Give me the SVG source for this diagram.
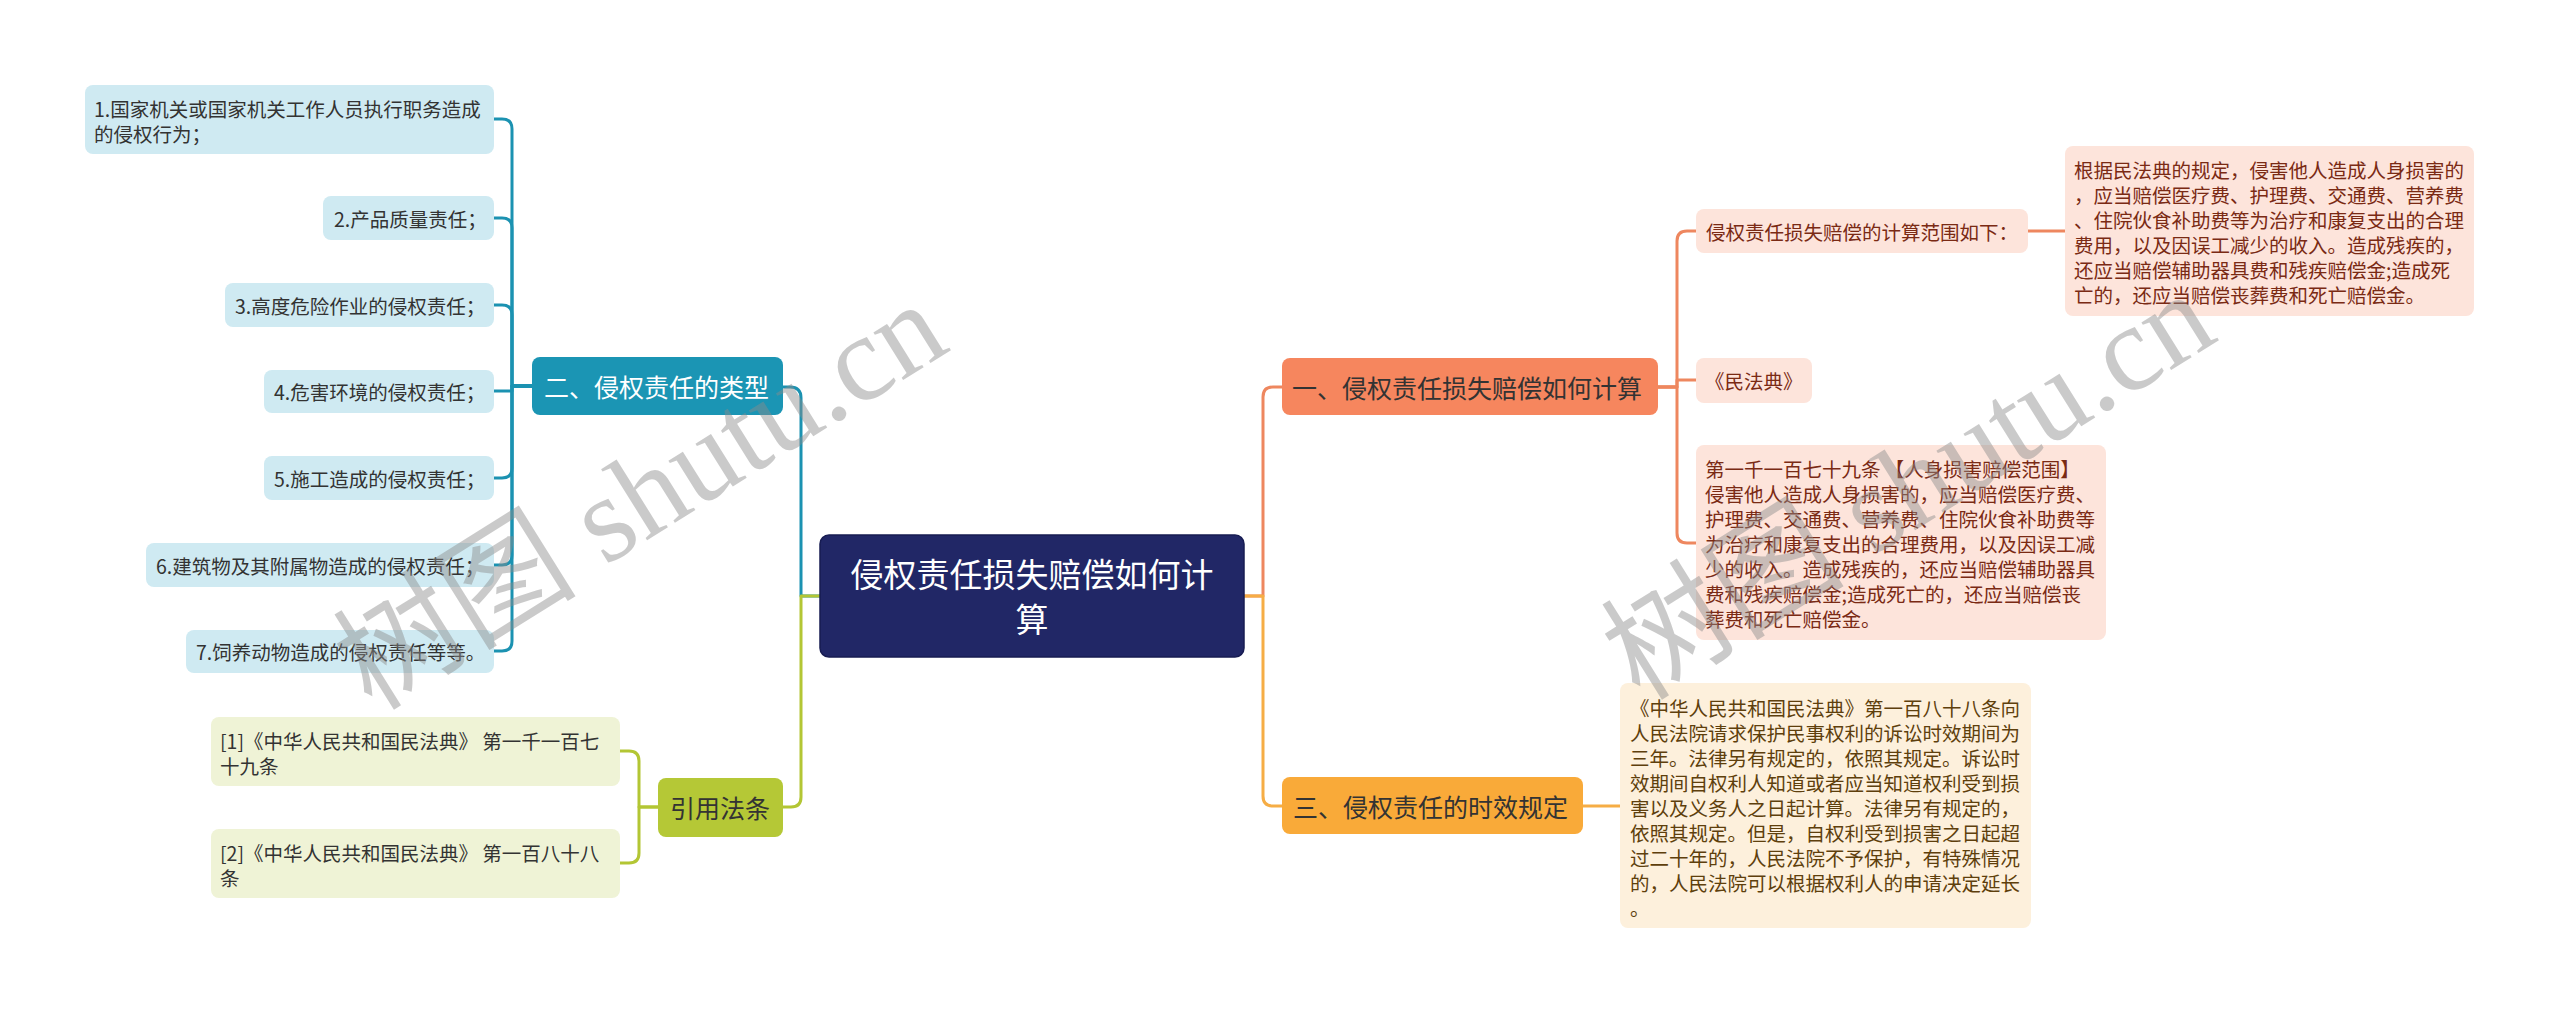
<svg xmlns="http://www.w3.org/2000/svg" width="2560" height="1013" viewBox="0 0 2560 1013">
<style>
text{font-family:"Noto Sans CJK SC","Noto Sans",sans-serif;dominant-baseline:central}
.s{font-size:19.5px}
.m{font-size:25px}
.c{font-size:33px;fill:#ffffff;text-anchor:middle}
.ln{fill:none;stroke-width:3;stroke-linecap:round;stroke-linejoin:round}
.wm{font-family:"Liberation Serif","Noto Sans CJK SC",serif;font-size:122px;fill:#8c8c8c;opacity:0.45;dominant-baseline:alphabetic}
</style>
<rect width="2560" height="1013" fill="#ffffff"/>
<g id="connectors">
<path class="ln" stroke="#1b92b1" d="M820,596 H801 V398 Q801,387 790,387 H783"/>
<path class="ln" stroke="#b3c634" d="M820,596 H801 V797 Q801,807 791,807 H783"/>
<path class="ln" stroke="#ee875f" d="M1244,596 H1263 V397 Q1263,387 1273,387 H1282"/>
<path class="ln" stroke="#f6ad45" d="M1244,596 H1263 V796 Q1263,806 1273,806 H1282"/>
<g stroke="#1b92b1">
<path class="ln" d="M532,386 H512 V129 Q512,119 502,119 H494"/>
<path class="ln" d="M532,386 H512 V228 Q512,218 502,218 H494"/>
<path class="ln" d="M532,386 H512 V315 Q512,305 502,305 H494"/>
<path class="ln" d="M532,386 H512 V391 H494"/>
<path class="ln" d="M532,386 H512 V468 Q512,478 502,478 H494"/>
<path class="ln" d="M532,386 H512 V555 Q512,565 502,565 H494"/>
<path class="ln" d="M532,386 H512 V641 Q512,651 502,651 H494"/>
</g>
<g stroke="#b3c634">
<path class="ln" d="M658,807 H639 V761 Q639,751 629,751 H620"/>
<path class="ln" d="M658,807 H639 V853 Q639,863 629,863 H620"/>
</g>
<g stroke="#ee875f">
<path class="ln" d="M1658,387 H1677 V241 Q1677,231 1687,231 H1696"/>
<path class="ln" d="M1658,387 H1677 V380 H1696"/>
<path class="ln" d="M1658,387 H1677 V533 Q1677,543 1687,543 H1696"/>
<path class="ln" d="M2028,231 H2065"/>
</g>
<path class="ln" stroke="#f6ad45" d="M1583,806 H1620"/>
</g>
<g id="center">
<rect x="820" y="535" width="424" height="122" rx="9" fill="#212766" stroke="#171c52" stroke-width="1.5"/>
<text class="c" x="1032" y="573">侵权责任损失赔偿如何计</text>
<text class="c" x="1032" y="618">算</text>
</g>
<g id="branch-types">
<rect x="532" y="357" width="251" height="58" rx="8" fill="#1b95b4"/>
<text class="m" x="544" y="386" fill="#ffffff">二、侵权责任的类型</text>
</g>
<g id="type-1">
<rect x="85" y="85" width="409" height="69" rx="8" fill="#cfeaf2"/>
<text class="s" x="94" y="108" fill="#333333">1.国家机关或国家机关工作人员执行职务造成</text>
<text class="s" x="94" y="133" fill="#333333">的侵权行为；</text>
</g>
<g id="type-2">
<rect x="323" y="196" width="171" height="44" rx="8" fill="#cfeaf2"/>
<text class="s" x="334" y="218" fill="#333333">2.产品质量责任；</text>
</g>
<g id="type-3">
<rect x="225" y="283" width="269" height="44" rx="8" fill="#cfeaf2"/>
<text class="s" x="235" y="305" fill="#333333">3.高度危险作业的侵权责任；</text>
</g>
<g id="type-4">
<rect x="264" y="370" width="230" height="43" rx="8" fill="#cfeaf2"/>
<text class="s" x="274" y="391.5" fill="#333333">4.危害环境的侵权责任；</text>
</g>
<g id="type-5">
<rect x="264" y="456" width="230" height="44" rx="8" fill="#cfeaf2"/>
<text class="s" x="274" y="478" fill="#333333">5.施工造成的侵权责任；</text>
</g>
<g id="type-6">
<rect x="146" y="543" width="348" height="44" rx="8" fill="#cfeaf2"/>
<text class="s" x="156" y="565" fill="#333333">6.建筑物及其附属物造成的侵权责任；</text>
</g>
<g id="type-7">
<rect x="186" y="630" width="308" height="43" rx="8" fill="#cfeaf2"/>
<text class="s" x="196" y="651.5" fill="#333333">7.饲养动物造成的侵权责任等等。</text>
</g>
<g id="branch-refs">
<rect x="658" y="778" width="125" height="59" rx="8" fill="#b5c836"/>
<text class="m" x="670" y="807" fill="#333333">引用法条</text>
</g>
<g id="ref-1">
<rect x="211" y="717" width="409" height="69" rx="8" fill="#eff3d6"/>
<text class="s" x="220" y="740" fill="#333333">[1]《中华人民共和国民法典》 第一千一百七</text>
<text class="s" x="220" y="765" fill="#333333">十九条</text>
</g>
<g id="ref-2">
<rect x="211" y="829" width="409" height="69" rx="8" fill="#eff3d6"/>
<text class="s" x="220" y="852" fill="#333333">[2]《中华人民共和国民法典》 第一百八十八</text>
<text class="s" x="220" y="877" fill="#333333">条</text>
</g>
<g id="branch-calc">
<rect x="1282" y="358" width="376" height="57" rx="8" fill="#f6865e"/>
<text class="m" x="1292" y="387" fill="#333333">一、侵权责任损失赔偿如何计算</text>
</g>
<g id="calc-scope">
<rect x="1696" y="209" width="332" height="44" rx="8" fill="#fde4db"/>
<text class="s" x="1706" y="231" fill="#7a2a14">侵权责任损失赔偿的计算范围如下：</text>
</g>
<g id="calc-scope-detail">
<rect x="2065" y="146" width="409" height="170" rx="8" fill="#fde4db"/>
<g fill="#7a2a14">
<text class="s" x="2074" y="169">根据民法典的规定，侵害他人造成人身损害的</text>
<text class="s" x="2074" y="194">，应当赔偿医疗费、护理费、交通费、营养费</text>
<text class="s" x="2074" y="219">、住院伙食补助费等为治疗和康复支出的合理</text>
<text class="s" x="2074" y="244">费用，以及因误工减少的收入。造成残疾的，</text>
<text class="s" x="2074" y="269">还应当赔偿辅助器具费和残疾赔偿金;造成死</text>
<text class="s" x="2074" y="294">亡的，还应当赔偿丧葬费和死亡赔偿金。</text>
</g>
</g>
<g id="calc-code">
<rect x="1696" y="358" width="116" height="45" rx="8" fill="#fde4db"/>
<text class="s" x="1705" y="380.5" fill="#7a2a14">《民法典》</text>
</g>
<g id="calc-article">
<rect x="1696" y="445" width="410" height="195" rx="8" fill="#fde4db"/>
<g fill="#7a2a14">
<text class="s" x="1705" y="468">第一千一百七十九条 【人身损害赔偿范围】</text>
<text class="s" x="1705" y="493">侵害他人造成人身损害的，应当赔偿医疗费、</text>
<text class="s" x="1705" y="518">护理费、交通费、营养费、住院伙食补助费等</text>
<text class="s" x="1705" y="543">为治疗和康复支出的合理费用，以及因误工减</text>
<text class="s" x="1705" y="568">少的收入。造成残疾的，还应当赔偿辅助器具</text>
<text class="s" x="1705" y="593">费和残疾赔偿金;造成死亡的，还应当赔偿丧</text>
<text class="s" x="1705" y="618">葬费和死亡赔偿金。</text>
</g>
</g>
<g id="branch-limit">
<rect x="1282" y="777" width="301" height="57" rx="8" fill="#f9aa39"/>
<text class="m" x="1293" y="806" fill="#333333">三、侵权责任的时效规定</text>
</g>
<g id="limit-detail">
<rect x="1620" y="683" width="411" height="245" rx="8" fill="#fdf0dc"/>
<g fill="#5e3f0c">
<text class="s" x="1630" y="707">《中华人民共和国民法典》第一百八十八条向</text>
<text class="s" x="1630" y="732">人民法院请求保护民事权利的诉讼时效期间为</text>
<text class="s" x="1630" y="757">三年。法律另有规定的，依照其规定。诉讼时</text>
<text class="s" x="1630" y="782">效期间自权利人知道或者应当知道权利受到损</text>
<text class="s" x="1630" y="807">害以及义务人之日起计算。法律另有规定的，</text>
<text class="s" x="1630" y="832">依照其规定。但是，自权利受到损害之日起超</text>
<text class="s" x="1630" y="857">过二十年的，人民法院不予保护，有特殊情况</text>
<text class="s" x="1630" y="882">的，人民法院可以根据权利人的申请决定延长</text>
<text class="s" x="1630" y="907">。</text>
</g>
</g>
<g id="watermarks">
<text class="wm" transform="translate(372,712) rotate(-32)">树图 shutu.cn</text>
<text class="wm" transform="translate(1640,702) rotate(-32)">树图 shutu.cn</text>
</g>
</svg>
